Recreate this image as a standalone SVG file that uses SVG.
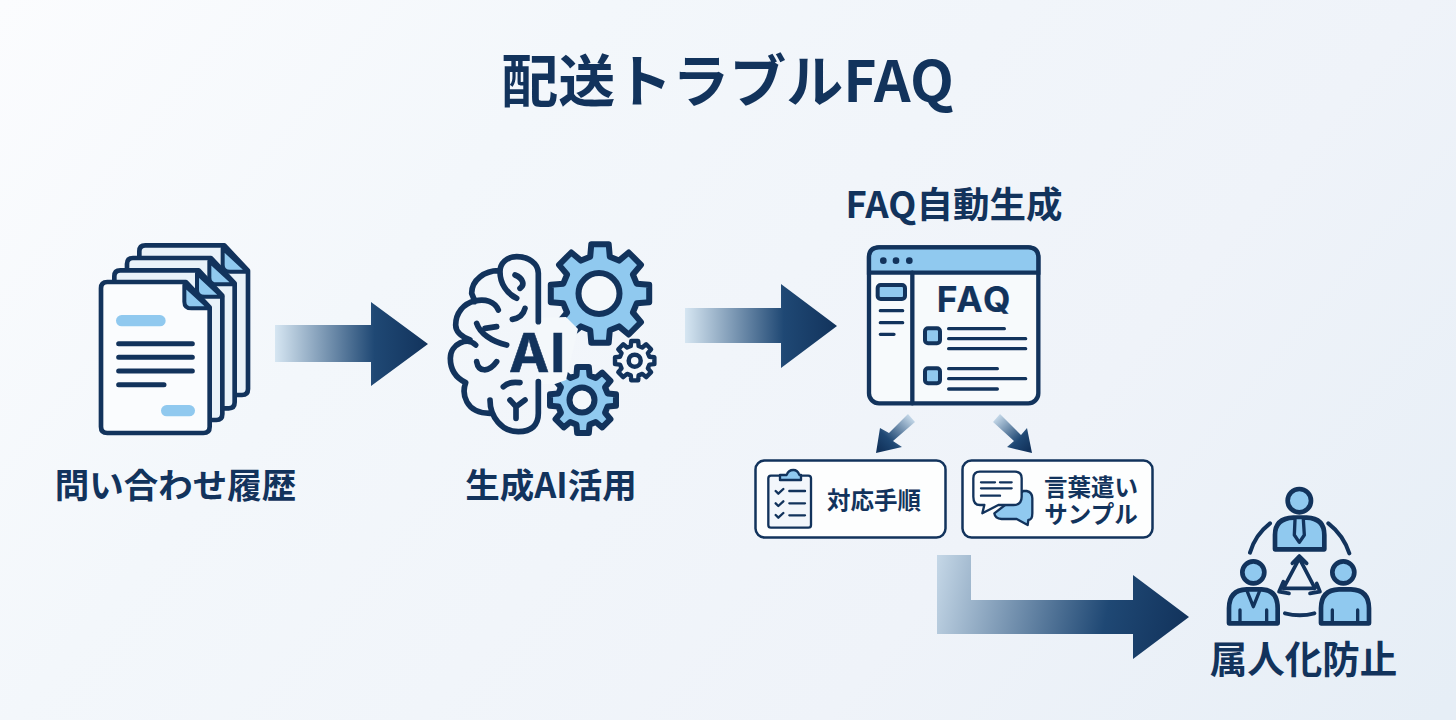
<svg xmlns="http://www.w3.org/2000/svg" width="1456" height="720" viewBox="0 0 1456 720">
<style>
text{font-family:"Noto Sans CJK JP","Noto Sans",sans-serif;font-weight:700;fill:#12335c}
.l{font-size:34.500px;text-anchor:middle}
.s{font-size:23.500px;text-anchor:middle}
.e{font-family:Inter,"Liberation Sans",sans-serif;stroke:#12335c;stroke-width:.6px}
.k{fill:none;stroke:#12335c;stroke-linecap:round;stroke-linejoin:round}
.b{fill:#90c9ef;stroke:#12335c;stroke-linejoin:round;stroke-linecap:round}
.p{fill:#e9f2f9;stroke:#12335c;stroke-width:14;stroke-linejoin:round}
.g{fill:#90c9ef;stroke:#12335c;stroke-linejoin:round}
.h{fill:#f2f6fb;stroke:#12335c}
</style>
<defs>
<linearGradient id="bg" x1="0" y1="0" x2="1200" y2="1000" gradientUnits="userSpaceOnUse"><stop offset="0" stop-color="#fbfcfe"/><stop offset=".3" stop-color="#f3f7fb"/><stop offset=".7" stop-color="#eff3f9"/><stop offset="1" stop-color="#e6eef6"/></linearGradient>
<linearGradient id="a1" x1="275" y1="0" x2="428" y2="0" gradientUnits="userSpaceOnUse"><stop offset="0" stop-color="#d6e6f2"/><stop offset=".65" stop-color="#1f4874"/><stop offset="1" stop-color="#12335c"/></linearGradient>
<linearGradient id="a2" x1="685" y1="0" x2="837" y2="0" gradientUnits="userSpaceOnUse"><stop offset="0" stop-color="#d6e6f2"/><stop offset=".65" stop-color="#1f4874"/><stop offset="1" stop-color="#12335c"/></linearGradient>
<linearGradient id="a3" x1="925" y1="560" x2="1189" y2="617" gradientUnits="userSpaceOnUse"><stop offset="0" stop-color="#cfe0ee"/><stop offset=".7" stop-color="#1f4874"/><stop offset="1" stop-color="#12335c"/></linearGradient>
<linearGradient id="a4" x1="912" y1="417" x2="880" y2="450" gradientUnits="userSpaceOnUse"><stop offset="0" stop-color="#c8dbeb"/><stop offset=".7" stop-color="#1f4874"/><stop offset="1" stop-color="#12335c"/></linearGradient>
<linearGradient id="a5" x1="996" y1="417" x2="1028" y2="450" gradientUnits="userSpaceOnUse"><stop offset="0" stop-color="#c8dbeb"/><stop offset=".7" stop-color="#1f4874"/><stop offset="1" stop-color="#12335c"/></linearGradient>
<polygon id="gear" points="49.2,-8.7 49.2,8.7 36.7,9.8 32.9,19 41,28.7 28.7,41 19,32.9 9.8,36.7 8.7,49.2 -8.7,49.2 -9.8,36.7 -19,32.9 -28.7,41 -41,28.7 -32.9,19 -36.7,9.8 -49.2,8.7 -49.2,-8.7 -36.7,-9.8 -32.9,-19 -41,-28.7 -28.7,-41 -19,-32.9 -9.8,-36.7 -8.7,-49.2 8.7,-49.2 9.8,-36.7 19,-32.9 28.7,-41 41,-28.7 32.9,-19 36.7,-9.8"/>
</defs>
<rect width="1456" height="720" fill="url(#bg)"/>
<text id="title" x="727.500" y="102" font-size="57" text-anchor="middle">配送トラブルFAQ</text>

<g id="connectors">
<polygon fill="url(#a1)" points="275,325 371,325 371,302 428,344 371,386 371,362 275,362"/>
<polygon fill="url(#a2)" points="685,308 781,308 781,284 837,326 781,368 781,343 685,343"/>
<polygon fill="url(#a3)" points="937,555 971,555 971,600 1133,600 1133,575 1189,617 1133,659 1133,634 937,634"/>
<polygon fill="url(#a4)" points="908,414 915,422 893,441 902,447 876,453 880,428 889,433"/>
<polygon fill="url(#a5)" points="1000,414 993,422 1014,441 1007,447 1032,453 1027,428 1021,435"/>
</g>

<g id="node-history" transform="translate(80,230) scale(.33333)">
<path class="p" d="M196,46H433L504,122V477Q504,495 486,495H196Q178,495 178,477V64Q178,46 196,46Z"/>
<path class="b" stroke-width="12" d="M428,55V105Q428,125 450,125H504Z"/>
<path class="p" d="M159,84H393L464,160V517Q464,535 446,535H159Q141,535 141,517V102Q141,84 159,84Z"/>
<path class="b" stroke-width="12" d="M388,93V143Q388,163 410,163H464Z"/>
<path class="p" d="M121,121H356L427,197V552Q427,570 409,570H121Q103,570 103,552V139Q103,121 121,121Z"/>
<path class="b" stroke-width="12" d="M351,130V180Q351,200 373,200H427Z"/>
<path class="p" style="fill:#fafcfe" d="M82,156H318L389,232V590Q389,609 370,609H82Q63,609 63,590V175Q63,156 82,156Z"/>
<path class="b" stroke-width="12" d="M313,165V215Q313,235 335,235H389Z"/>
<rect x="108" y="255" width="149" height="34" rx="17" fill="#90c9ef"/>
<rect x="243" y="525" width="102" height="34" rx="17" fill="#90c9ef"/>
<path class="k" stroke-width="15" d="M116,341H337M116,382H337M116,423H337M116,464H252"/>
</g>
<text class="l" x="175.500" y="498">問い合わせ履歴</text>

<g id="node-ai">
<use href="#gear" class="g" stroke-width="6" transform="translate(600,293.5)"/>
<circle cx="599" cy="293.5" r="20.5" fill="#f4f8fb" stroke="#12335c" stroke-width="6"/>
<use href="#gear" class="g" stroke-width="9" transform="translate(583,400) scale(.67)"/>
<circle cx="582" cy="400" r="12.5" fill="#f4f8fb" stroke="#12335c" stroke-width="6"/>
<use href="#gear" fill="#f4f8fb" stroke="#12335c" stroke-linejoin="round" stroke-width="11" transform="translate(634.7,360.7) scale(.4)"/>
<circle cx="634.7" cy="360.7" r="6" fill="#f4f8fb" stroke="#12335c" stroke-width="4.500"/>
<path d="M538,318L566,317L578,329L566,380L555,384L538,384Z" fill="#f4f8fb"/>
<g transform="translate(435,230) scale(.33333)">
<path class="k" stroke-width="17" d="M310,275V130C310,100 280,80 245,80C215,80 195,100 195,125C195,160 215,190 245,205M195,122C150,120 110,150 110,190L120,215M190,240C180,215 150,205 120,213C85,220 62,250 62,285C62,305 80,320 105,330M122,345C100,320 46,340 46,385C46,420 65,445 92,458C80,490 90,550 165,550M165,510C165,560 200,605 250,605C290,605 310,585 310,550V455M240,135C265,145 270,165 255,175M270,235C265,255 250,265 232,268M125,280C135,310 170,335 215,345M150,295L185,290M125,395C130,425 160,430 185,395M205,470C215,460 235,455 255,458M225,510L243,530L270,510M243,530V565"/>
</g>
<text class="e" x="509" y="372" font-size="54" letter-spacing="1">AI</text>
</g>
<text class="l" x="551" y="498">生成AI活用</text>

<text class="l" x="954" y="218" style="font-size:36.500px">FAQ自動生成</text>
<g id="node-faq" transform="translate(855,235) scale(.33333)">
<rect x="42" y="37" width="508" height="468" rx="30" fill="#f7fafc" stroke="#12335c" stroke-width="13"/>
<path fill="#90c9ef" d="M42,113V67Q42,37 72,37H520Q550,37 550,67V113Z" stroke="#12335c" stroke-width="13"/>
<path class="k" stroke-width="13" d="M172,113V505"/>
<circle cx="85" cy="77" r="10" fill="#12335c"/><circle cx="123" cy="77" r="10" fill="#12335c"/><circle cx="163" cy="77" r="10" fill="#12335c"/>
<rect class="b" stroke-width="12" x="68" y="150" width="82" height="42" rx="9"/>
<path class="k" stroke-width="10" d="M76,227H143M76,263H143M76,298H117M281,281H448M281,311H512M281,341H512M281,401H427M281,431H512M281,462H427"/>
<rect class="b" stroke-width="12" x="210" y="280" width="45" height="45" rx="9"/>
<rect class="b" stroke-width="12" x="210" y="400" width="45" height="45" rx="9"/>
<text class="e" x="245" y="232" font-size="106" letter-spacing="6">FAQ</text>
</g>

<g id="node-steps">
<rect x="755.500" y="460.500" width="190" height="77" rx="9" fill="#fdfefe" stroke="#12335c" stroke-width="2.500"/>
<g transform="translate(745,405) scale(.33333)">
<rect class="h" stroke-width="7" x="70" y="212" width="128" height="156" rx="8"/>
<path class="b" stroke-width="7" d="M105,225V210H125Q130,195 145,195Q158,195 163,210H168V225Z"/>
<path class="k" stroke-width="7" d="M92,258L100,266L115,252M133,258H180M92,295L100,303L115,289M133,295H180M92,330L100,338L115,324M133,331H180"/>
</g>
<text class="s" x="874" y="509">対応手順</text>
</g>

<g id="node-samples">
<rect x="962.500" y="460.500" width="190" height="77" rx="9" fill="#fdfefe" stroke="#12335c" stroke-width="2.500"/>
<g transform="translate(745,405) scale(.33333)">
<path class="b" stroke-width="7" d="M835,258H845Q862,262 862,280V325Q862,345 850,345L848,360L815,342H770Q750,340 748,325Z"/>
<path fill="#fdfefe" stroke="#12335c" stroke-width="7" stroke-linejoin="round" d="M705,200H810Q830,200 830,220V275Q830,300 805,300H760L712,325L718,300H705Q685,300 685,275V220Q685,200 705,200Z"/>
<path class="k" stroke-width="7" d="M708,232H750M765,232H800M708,250H800M708,272H765"/>
</g>
<text class="s"><tspan x="1091" y="495.500">言葉遣い</tspan><tspan x="1091" y="522.500">サンプル</tspan></text>
</g>

<g id="node-prevent" transform="translate(1215,480) scale(.33333)">
<path class="k" stroke-width="12" d="M105,218Q120,165 165,130M340,130Q385,165 403,220M210,400Q255,412 298,400"/>
<circle class="b" stroke-width="14" cx="253" cy="62" r="35"/>
<path class="b" stroke-width="14" d="M180,208V165Q180,115 235,113H275Q328,115 328,165V208Z"/>
<path class="b" stroke-width="10" d="M240,118L238,165L253,187L268,165L265,118"/>
<circle class="b" stroke-width="14" cx="115" cy="277" r="33"/>
<path class="b" stroke-width="14" d="M42,430V385Q42,330 95,328H140Q188,330 188,385V430Z"/>
<path class="k" stroke-width="10" d="M95,330L115,380L135,330M75,390V430M155,390V430"/>
<circle class="b" stroke-width="14" cx="385" cy="277" r="33"/>
<path class="b" stroke-width="14" d="M318,430V385Q318,330 372,328H408Q462,330 462,385V430Z"/>
<path class="k" stroke-width="10" d="M352,390V430M428,390V430"/>
<path class="k" stroke-width="11" d="M253,235L205,325H300Z M232,250L253,228L275,250M205,305L192,335L222,340M285,340L315,335L305,310"/>
</g>
<text class="l" x="1303.500" y="673" style="font-size:37.500px">属人化防止</text>
</svg>
